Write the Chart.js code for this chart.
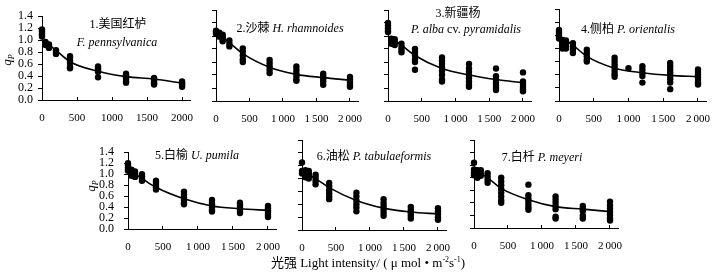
<!DOCTYPE html>
<html>
<head>
<meta charset="utf-8">
<script src="https://cdn.jsdelivr.net/npm/chart.js@4.4.1/dist/chart.umd.min.js"></script>
<style>
  body { margin: 0; background: #fff; width: 718px; height: 275px; position: relative; overflow: hidden;
         font-family: "Liberation Serif", "Noto Sans CJK SC", serif; color: #000; }
  canvas { position: absolute; }
  .lbl { position: absolute; white-space: nowrap; font-size: 12px; line-height: 1; transform: translate(-50%, -50%); }
  .ylab { position: absolute; white-space: nowrap; font-size: 13px; line-height: 1; transform: translate(-50%, -50%) rotate(-90deg); }
  i { font-style: italic; }
  sub { font-size: 8px; vertical-align: -3px; }
  sup { font-size: 8px; vertical-align: 5px; }
</style>
</head>
<body>
<script>
// light intensity levels (umol m-2 s-1) where qP was measured
const lightLevels = [0, 50, 100, 200, 400, 800, 1000, 1200, 1600, 2000];
// light levels used for the fitted curves
const fitLight = [0, 100, 200, 400, 800, 1200, 1600, 2000];
const xTickValues = [0, 500, 1000, 1500, 2000];
const yTickValues = [0, 0.2, 0.4, 0.6, 0.8, 1.0, 1.2, 1.4];

// replicate qP readings per light level (same order as lightLevels)
const fraxinusQp = [[1.18, 1.15, 1.12, 1.09, 1.06], [0.97, 0.94, 0.92], [0.93, 0.90, 0.87], [0.83, 0.80, 0.77],
  [0.73, 0.70, 0.66, 0.62, 0.55, 0.53], [0.56, 0.53, 0.50, 0.47, 0.38], [],
  [0.44, 0.41, 0.38, 0.35, 0.31, 0.29], [0.37, 0.34, 0.31, 0.28, 0.26], [0.31, 0.28, 0.25, 0.22]];
const hippophaeQp = [[1.08, 1.06, 1.04], [1.05, 1.02, 0.99], [1.02, 0.98, 0.94, 0.92], [0.93, 0.88, 0.84],
  [0.81, 0.76, 0.70, 0.64, 0.60], [0.63, 0.58, 0.53, 0.48, 0.43], [],
  [0.53, 0.48, 0.43, 0.38, 0.33, 0.31], [0.42, 0.38, 0.34, 0.30, 0.25], [0.37, 0.33, 0.29, 0.25, 0.22]];
const populusQp = [[1.20, 1.16, 1.12, 1.08, 1.06], [0.96, 0.92, 0.88], [0.95, 0.90, 0.86], [0.88, 0.83, 0.79, 0.75],
  [0.80, 0.75, 0.70, 0.64, 0.60, 0.48], [0.67, 0.62, 0.57, 0.52, 0.46, 0.40, 0.33, 0.30], [],
  [0.57, 0.50, 0.45, 0.40, 0.35, 0.30, 0.25, 0.22], [0.50, 0.38, 0.33, 0.28, 0.24, 0.20, 0.17],
  [0.44, 0.30, 0.26, 0.22, 0.18, 0.15]];
const platycladusQp = [[1.08, 1.05, 1.02, 0.98, 0.95], [0.93, 0.88, 0.84, 0.80], [0.92, 0.87, 0.83, 0.80],
  [0.88, 0.83, 0.78, 0.73], [0.78, 0.73, 0.68, 0.63, 0.60], [0.66, 0.61, 0.56, 0.51, 0.46, 0.41, 0.37], [0.50],
  [0.53, 0.48, 0.43, 0.38, 0.28], [0.58, 0.53, 0.48, 0.43, 0.38, 0.33, 0.28, 0.18],
  [0.48, 0.44, 0.40, 0.36, 0.32, 0.28, 0.25]];
const ulmusQp = [[1.20, 1.16, 1.12, 1.08, 1.06], [1.08, 1.04, 1.00, 0.97], [1.05, 1.01, 0.98, 0.95],
  [1.00, 0.96, 0.92, 0.88], [0.88, 0.84, 0.80, 0.76, 0.72], [0.68, 0.63, 0.58, 0.53, 0.48, 0.45], [],
  [0.53, 0.48, 0.44, 0.40, 0.35, 0.32], [0.48, 0.44, 0.40, 0.36, 0.32, 0.29], [0.42, 0.38, 0.34, 0.30, 0.26, 0.22]];
const pinusQp = [[1.05, 0.92, 0.88], [0.93, 0.89, 0.85, 0.82], [0.92, 0.88, 0.84, 0.80], [0.86, 0.81, 0.76, 0.71],
  [0.73, 0.68, 0.62, 0.57, 0.52, 0.48], [0.58, 0.52, 0.46, 0.40, 0.35, 0.29], [],
  [0.48, 0.42, 0.37, 0.32, 0.27, 0.22], [0.36, 0.31, 0.26, 0.22, 0.18], [0.34, 0.29, 0.25, 0.20, 0.16]];
const piceaQp = [[1.04, 0.93, 0.88, 0.84], [0.92, 0.88, 0.84, 0.80], [0.92, 0.87, 0.83], [0.87, 0.82, 0.77, 0.72],
  [0.80, 0.74, 0.68, 0.62, 0.56, 0.50, 0.44, 0.40], [0.69, 0.52, 0.47, 0.43, 0.38, 0.33, 0.29], [],
  [0.50, 0.45, 0.40, 0.35, 0.30, 0.18, 0.15], [0.35, 0.31, 0.27, 0.20, 0.15], [0.42, 0.36, 0.31, 0.26, 0.21, 0.16, 0.12]];

// fitted curves (same order as fitLight)
const fraxinusFit = [1.00, 0.92, 0.83, 0.64, 0.48, 0.39, 0.35, 0.28];
const hippophaeFit = [1.06, 0.98, 0.90, 0.73, 0.52, 0.41, 0.36, 0.32];
const populusFit = [1.00, 0.93, 0.86, 0.70, 0.50, 0.40, 0.33, 0.28];
const platycladusFit = [0.98, 0.92, 0.85, 0.68, 0.50, 0.43, 0.39, 0.37];
const ulmusFit = [1.06, 1.00, 0.92, 0.76, 0.55, 0.42, 0.37, 0.34];
const pinusFit = [0.90, 0.86, 0.80, 0.66, 0.46, 0.34, 0.28, 0.25];
const piceaFit = [0.93, 0.87, 0.80, 0.63, 0.45, 0.34, 0.30, 0.26];

const panelTitles = [
  ['1.美国红栌', '<i>F. pennsylvanica</i>'],
  ['2.沙棘 <i>H. rhamnoides</i>'],
  ['3.新疆杨', '<i>P. alba</i> cv. <i>pyramidalis</i>'],
  ['4.侧柏 <i>P. orientalis</i>'],
  ['5.白榆 <i>U. pumila</i>'],
  ['6.油松 <i>P. tabulaeformis</i>'],
  ['7.白杄 <i>P. meyeri</i>']
];

// layout: box = [axis left px, px of x=2000, px of y=1.4, px of y=0]
const panels = [
  { qp: fraxinusQp, fit: fraxinusFit, box: [42, 184, 12, 100], yLabels: true, space: false, titlePos: [[118, 24], [117, 42]] },
  { qp: hippophaeQp, fit: hippophaeFit, box: [216, 354, 10, 101], yLabels: false, space: true, titlePos: [[290, 28]] },
  { qp: populusQp, fit: populusFit, box: [388, 527, 10, 101], yLabels: false, space: true, titlePos: [[458, 13], [466, 29]] },
  { qp: platycladusQp, fit: platycladusFit, box: [559, 701, 9, 101], yLabels: false, space: true, titlePos: [[628, 29]] },
  { qp: ulmusQp, fit: ulmusFit, box: [128, 271, 143, 229], yLabels: true, space: true, titlePos: [[197, 155]] },
  { qp: pinusQp, fit: pinusFit, box: [302, 442, 140, 230], yLabels: false, space: true, titlePos: [[374, 156]] },
  { qp: piceaQp, fit: piceaFit, box: [474, 614, 140, 228], yLabels: false, space: true, titlePos: [[542, 157]] }
];

const X_MAX = 2120;
const padL = 40, padR = 16, padT = 8, padB = 28;

Chart.defaults.font.family = '"Liberation Serif", serif';
Chart.defaults.font.size = 11;
Chart.defaults.color = '#000';

function addText(html, x, y, cls) {
  const d = document.createElement('div');
  d.className = cls || 'lbl';
  d.innerHTML = html;
  d.style.left = x + 'px';
  d.style.top = y + 'px';
  document.body.appendChild(d);
  return d;
}

panels.forEach((p, i) => {
  const [L, X2000, T, B] = p.box;
  const R = Math.round(L + (X2000 - L) * X_MAX / 2000);
  const cv = document.createElement('canvas');
  const w = (R - L) + padL + padR;
  const h = (B - T) + padT + padB;
  cv.width = w; cv.height = h;
  cv.style.left = (L - padL) + 'px';
  cv.style.top = (T - padT) + 'px';
  cv.style.width = w + 'px';
  cv.style.height = h + 'px';
  document.body.appendChild(cv);

  const points = [];
  lightLevels.forEach((lx, k) => p.qp[k].forEach(v => points.push({ x: lx, y: v })));
  const curve = fitLight.map((lx, k) => ({ x: lx, y: p.fit[k] }));

  new Chart(cv, {
    type: 'scatter',
    data: {
      datasets: [
        { type: 'line', data: curve, borderColor: '#000', borderWidth: 1.6, pointRadius: 0,
          cubicInterpolationMode: 'monotone', fill: false, clip: false },
        { data: points, backgroundColor: '#000', borderWidth: 0, pointRadius: 3.2, clip: false }
      ]
    },
    options: {
      responsive: false,
      animation: false,
      events: [],
      layout: { padding: { top: padT, right: padR, left: 0, bottom: 0 } },
      plugins: { legend: { display: false }, tooltip: { enabled: false } },
      scales: {
        x: {
          type: 'linear', min: 0, max: X_MAX,
          afterBuildTicks: s => { s.ticks = xTickValues.map(v => ({ value: v })); },
          afterFit: s => { s.height = padB; },
          grid: { drawOnChartArea: false, tickLength: -3, color: '#000' },
          border: { color: '#000', width: 1 },
          ticks: {
            autoSkip: false, maxRotation: 0, padding: 15,
            callback: v => (p.space && v >= 1000) ? String(v).replace(/(\d)(\d{3})$/, '$1\u2009$2') : String(v)
          }
        },
        y: {
          min: 0, max: 1.4,
          afterBuildTicks: s => { s.ticks = yTickValues.map(v => ({ value: v })); },
          afterFit: s => { s.width = padL; },
          grid: { drawOnChartArea: false, tickLength: 4, color: '#000' },
          border: { color: '#000', width: 1 },
          ticks: { display: p.yLabels, autoSkip: false, padding: i === 0 ? 5 : 10,
                   callback: v => v.toFixed(1), font: { size: 12 } }
        }
      }
    }
  });

  panelTitles[i].forEach((t, k) => addText(t, p.titlePos[k][0], p.titlePos[k][1]));
});

addText('<i>q</i><sub><i>P</i></sub>', 8, 60, 'ylab');
addText('<i>q</i><sub><i>P</i></sub>', 92, 186, 'ylab');
addText('光强 Light intensity/ ( μ mol • m<sup>-2</sup>s<sup>-1</sup>)', 368, 262).style.fontSize = '13px';
</script>
</body>
</html>
